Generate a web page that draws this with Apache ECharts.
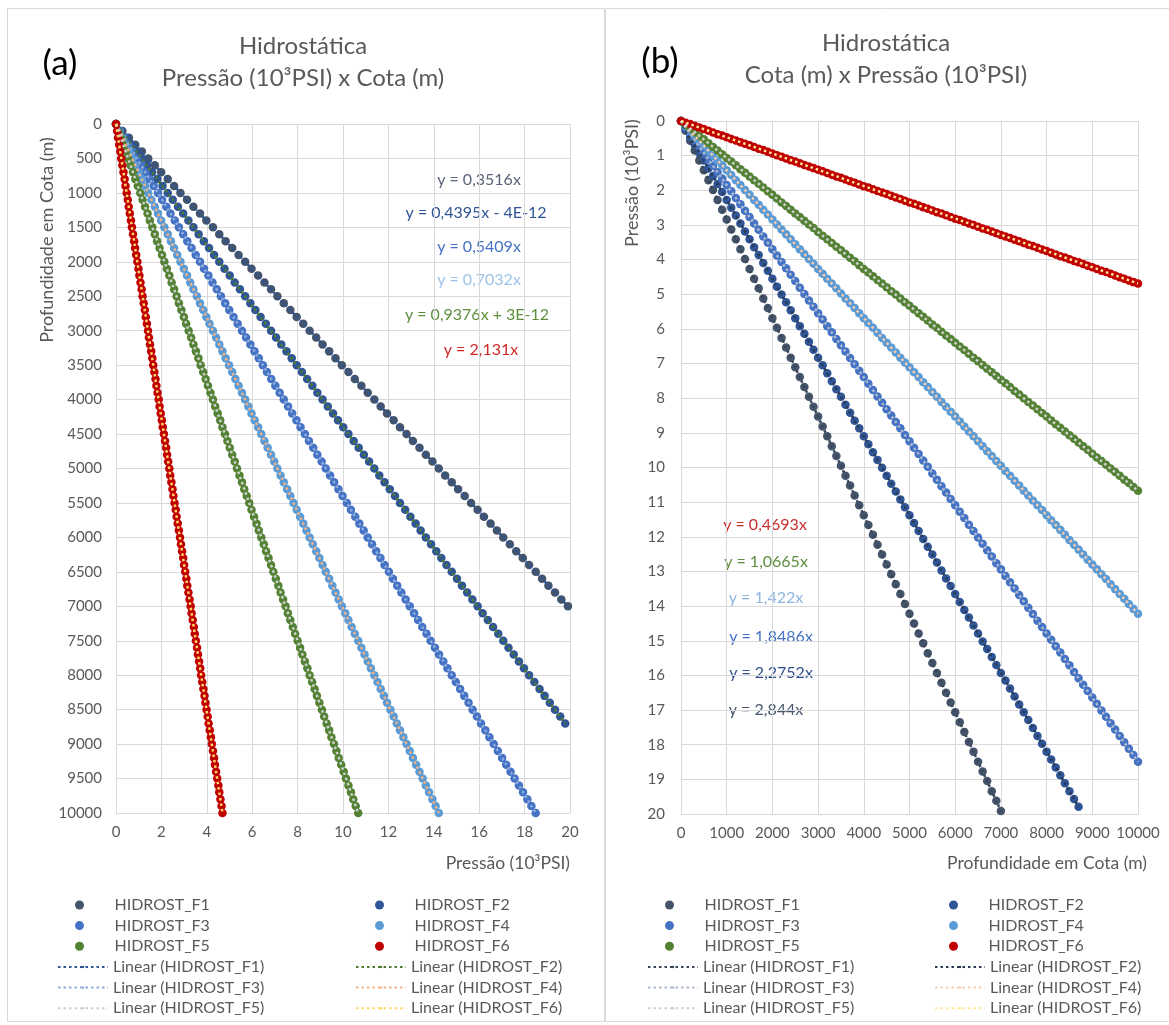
<!DOCTYPE html>
<html><head><meta charset="utf-8">
<script src="https://cdn.jsdelivr.net/npm/echarts@6/dist/echarts.min.js"></script>
<style>html,body{margin:0;padding:0;background:#fff}#c{width:1169px;height:1025px}</style>
</head><body><div id="c"></div>
<script>
// ---- DATA ----
const depthM = [0,100,200,300,400,500,600,700,800,900,1000,1100,1200,1300,1400,1500,1600,1700,1800,1900,2000,2100,2200,2300,2400,2500,2600,2700,2800,2900,3000,3100,3200,3300,3400,3500,3600,3700,3800,3900,4000,4100,4200,4300,4400,4500,4600,4700,4800,4900,5000,5100,5200,5300,5400,5500,5600,5700,5800,5900,6000,6100,6200,6300,6400,6500,6600,6700,6800,6900,7000,7100,7200,7300,7400,7500,7600,7700,7800,7900,8000,8100,8200,8300,8400,8500,8600,8700,8800,8900,9000,9100,9200,9300,9400,9500,9600,9700,9800,9900,10000];
const pressF1 = [0,0.28,0.57,0.85,1.14,1.42,1.71,1.99,2.28,2.56,2.84,3.13,3.41,3.70,3.98,4.27,4.55,4.83,5.12,5.40,5.69,5.97,6.26,6.54,6.83,7.11,7.39,7.68,7.96,8.25,8.53,8.82,9.10,9.39,9.67,9.95,10.24,10.52,10.81,11.09,11.38,11.66,11.94,12.23,12.51,12.80,13.08,13.37,13.65,13.94,14.22,14.50,14.79,15.07,15.36,15.64,15.93,16.21,16.50,16.78,17.06,17.35,17.63,17.92,18.20,18.49,18.77,19.05,19.34,19.62,19.91];
const pressF2 = [0,0.23,0.46,0.68,0.91,1.14,1.37,1.59,1.82,2.05,2.28,2.50,2.73,2.96,3.19,3.41,3.64,3.87,4.10,4.32,4.55,4.78,5.01,5.23,5.46,5.69,5.92,6.14,6.37,6.60,6.83,7.05,7.28,7.51,7.74,7.96,8.19,8.42,8.65,8.87,9.10,9.33,9.56,9.78,10.01,10.24,10.47,10.69,10.92,11.15,11.38,11.60,11.83,12.06,12.29,12.51,12.74,12.97,13.20,13.42,13.65,13.88,14.11,14.33,14.56,14.79,15.02,15.24,15.47,15.70,15.93,16.15,16.38,16.61,16.84,17.06,17.29,17.52,17.75,17.97,18.20,18.43,18.66,18.88,19.11,19.34,19.57,19.79];
const pressF3 = [0,0.18,0.37,0.55,0.74,0.92,1.11,1.29,1.48,1.66,1.85,2.03,2.22,2.40,2.59,2.77,2.96,3.14,3.33,3.51,3.70,3.88,4.07,4.25,4.44,4.62,4.81,4.99,5.18,5.36,5.55,5.73,5.92,6.10,6.29,6.47,6.65,6.84,7.02,7.21,7.39,7.58,7.76,7.95,8.13,8.32,8.50,8.69,8.87,9.06,9.24,9.43,9.61,9.80,9.98,10.17,10.35,10.54,10.72,10.91,11.09,11.28,11.46,11.65,11.83,12.02,12.20,12.39,12.57,12.76,12.94,13.13,13.31,13.49,13.68,13.86,14.05,14.23,14.42,14.60,14.79,14.97,15.16,15.34,15.53,15.71,15.90,16.08,16.27,16.45,16.64,16.82,17.01,17.19,17.38,17.56,17.75,17.93,18.12,18.30,18.49];
const pressF4 = [0,0.14,0.28,0.43,0.57,0.71,0.85,1.00,1.14,1.28,1.42,1.56,1.71,1.85,1.99,2.13,2.28,2.42,2.56,2.70,2.84,2.99,3.13,3.27,3.41,3.56,3.70,3.84,3.98,4.12,4.27,4.41,4.55,4.69,4.83,4.98,5.12,5.26,5.40,5.55,5.69,5.83,5.97,6.11,6.26,6.40,6.54,6.68,6.83,6.97,7.11,7.25,7.39,7.54,7.68,7.82,7.96,8.11,8.25,8.39,8.53,8.67,8.82,8.96,9.10,9.24,9.39,9.53,9.67,9.81,9.95,10.10,10.24,10.38,10.52,10.67,10.81,10.95,11.09,11.23,11.38,11.52,11.66,11.80,11.94,12.09,12.23,12.37,12.51,12.66,12.80,12.94,13.08,13.22,13.37,13.51,13.65,13.79,13.94,14.08,14.22];
const pressF5 = [0,0.11,0.21,0.32,0.43,0.53,0.64,0.75,0.85,0.96,1.07,1.17,1.28,1.39,1.49,1.60,1.71,1.81,1.92,2.03,2.13,2.24,2.35,2.45,2.56,2.67,2.77,2.88,2.99,3.09,3.20,3.31,3.41,3.52,3.63,3.73,3.84,3.95,4.05,4.16,4.27,4.37,4.48,4.59,4.69,4.80,4.91,5.01,5.12,5.23,5.33,5.44,5.55,5.65,5.76,5.87,5.97,6.08,6.19,6.29,6.40,6.51,6.61,6.72,6.83,6.93,7.04,7.15,7.25,7.36,7.47,7.57,7.68,7.79,7.89,8.00,8.11,8.21,8.32,8.43,8.53,8.64,8.75,8.85,8.96,9.07,9.17,9.28,9.39,9.49,9.60,9.71,9.81,9.92,10.03,10.13,10.24,10.35,10.45,10.56,10.67];
const pressF6 = [0,0.05,0.09,0.14,0.19,0.23,0.28,0.33,0.38,0.42,0.47,0.52,0.56,0.61,0.66,0.70,0.75,0.80,0.84,0.89,0.94,0.99,1.03,1.08,1.13,1.17,1.22,1.27,1.31,1.36,1.41,1.45,1.50,1.55,1.60,1.64,1.69,1.74,1.78,1.83,1.88,1.92,1.97,2.02,2.06,2.11,2.16,2.21,2.25,2.30,2.35,2.39,2.44,2.49,2.53,2.58,2.63,2.67,2.72,2.77,2.82,2.86,2.91,2.96,3.00,3.05,3.10,3.14,3.19,3.24,3.29,3.33,3.38,3.43,3.47,3.52,3.57,3.61,3.66,3.71,3.75,3.80,3.85,3.90,3.94,3.99,4.04,4.08,4.13,4.18,4.22,4.27,4.32,4.36,4.41,4.46,4.51,4.55,4.60,4.65,4.69];
const seriesNames = ['HIDROST_F1','HIDROST_F2','HIDROST_F3','HIDROST_F4','HIDROST_F5','HIDROST_F6'];
const equationsA = ['y = 0,3516x','y = 0,4395x - 4E-12','y = 0,5409x','y = 0,7032x','y = 0,9376x + 3E-12','y = 2,131x'];
const equationsB = ['y = 2,844x','y = 2,2752x','y = 1,8486x','y = 1,422x','y = 1,0665x','y = 0,4693x'];
const titleA = ['Hidrostática','Pressão (10³PSI) x Cota (m)'];
const titleB = ['Hidrostática','Cota (m) x Pressão (10³PSI)'];
const axisNamesA = {x:'Pressão (10³PSI)', y:'Profundidade em Cota (m)'};
const axisNamesB = {x:'Profundidade em Cota (m)', y:'Pressão (10³PSI)'};

// ---- STYLE ----
const FONT = 'Lato';
const TXT = '#595959';
const GRIDC = '#D9D9D9';
const pressures = [pressF1,pressF2,pressF3,pressF4,pressF5,pressF6];
const markerColors = ['#44546A','#2F5597','#4472C4','#5B9BD5','#548235','#C00000'];
const trendColorsA = ['#2F5597','#4E7A2E','#8FAADC','#F4B183','#CFCFCF','#FFD966'];
const trendColorsB = ['#3A4658','#2A3A55','#ADB9CA','#F8CBAD','#D0CECE','#FFE699'];
const eqColorsA = ['#5A6478','#2F5597','#4472C4','#9DC3E6','#5E8E3E','#D02828'];
const eqColorsB = ['#44546A','#2F4F8F','#4472C4','#8FB4E0','#5E8E3E','#C83030'];

const chart = echarts.init(document.getElementById('c'), null, {renderer:'canvas'});

function axisBase(extra, margin){
  return Object.assign({
    type:'value',
    axisLine:{show:true,onZero:false,lineStyle:{color:GRIDC,width:1}},
    axisTick:{show:false},
    splitLine:{show:true,lineStyle:{color:GRIDC,width:1}},
    axisLabel:{color:TXT,fontSize:15,fontFamily:FONT,margin:margin,formatter:v=>String(v)}
  }, extra);
}

const series = [];
const dash = [2.5,3];
seriesNames.forEach((n,i)=>{
  series.push({type:'scatter', name:'a:'+n, xAxisIndex:0, yAxisIndex:0,
    data: pressures[i].map((p,j)=>[p, depthM[j]]),
    symbol:'circle', symbolSize:8.5, itemStyle:{color:markerColors[i], opacity:1}, z:2, silent:true});
});
seriesNames.forEach((n,i)=>{
  const pr = pressures[i], L = pr.length-1;
  series.push({type:'line', name:'a:Linear ('+n+')', xAxisIndex:0, yAxisIndex:0,
    data:[[pr[0],depthM[0]],[pr[L],depthM[L]]], symbol:'none',
    lineStyle:{color:trendColorsA[i], width:2.5, type:dash}, itemStyle:{color:trendColorsA[i]}, z:3, silent:true});
});
seriesNames.forEach((n,i)=>{
  series.push({type:'scatter', name:'b:'+n, xAxisIndex:1, yAxisIndex:1,
    data: pressures[i].map((p,j)=>[depthM[j], p]),
    symbol:'circle', symbolSize:8.5, itemStyle:{color:markerColors[i], opacity:1}, z:2, silent:true});
});
seriesNames.forEach((n,i)=>{
  const pr = pressures[i], L = pr.length-1;
  series.push({type:'line', name:'b:Linear ('+n+')', xAxisIndex:1, yAxisIndex:1,
    data:[[depthM[0],pr[0]],[depthM[L],pr[L]]], symbol:'none',
    lineStyle:{color:trendColorsB[i], width:2.5, type:dash}, itemStyle:{color:trendColorsB[i]}, z:3, silent:true});
});

function legend(prefix, names, left, top, isLine){
  return {
    orient:'vertical', left:left, top:top, padding:0,
    itemWidth:50, itemHeight: isLine?3:9, itemGap:0.6,
    selectedMode:false,
    data: names.map(n=>prefix+n),
    formatter: nm => nm.slice(2),
    textStyle:{color:TXT, fontSize:16, fontFamily:FONT, lineHeight:20, padding: isLine?[0,0,0,0]:[0,0,0,5]}
  };
}
const odd = [0,2,4].map(i=>seriesNames[i]);
const even = [1,3,5].map(i=>seriesNames[i]);
const legends = [
  legend('a:', odd, 75, 895, false),
  legend('a:', even, 375, 895, false),
  legend('a:', odd.map(n=>'Linear ('+n+')'), 57, 957, true),
  legend('a:', even.map(n=>'Linear ('+n+')'), 355, 957, true),
  legend('b:', odd, 665, 895, false),
  legend('b:', even, 949, 895, false),
  legend('b:', odd.map(n=>'Linear ('+n+')'), 647, 957, true),
  legend('b:', even.map(n=>'Linear ('+n+')'), 934, 957, true)
];

const g = [];
function txt(x,y,text,opts){
  g.push({type:'text', x:x, y:y, silent:true,
    style:Object.assign({text:text, fill:TXT, font:'16px '+FONT, textAlign:'center', textVerticalAlign:'middle'}, opts||{})});
}
g.push({type:'rect', silent:true, shape:{x:7.5,y:8.5,width:597,height:1013}, style:{fill:'none',stroke:GRIDC,lineWidth:1}});
g.push({type:'rect', silent:true, shape:{x:605.5,y:8.5,width:580,height:1013}, style:{fill:'none',stroke:GRIDC,lineWidth:1}});
txt(303,46,titleA[0],{font:'24px '+FONT});
txt(303,78,titleA[1],{font:'24px '+FONT});
txt(886,43,titleB[0],{font:'24px '+FONT});
txt(886,75,titleB[1],{font:'24px '+FONT});
txt(60,64,'(a)',{font:'35px '+FONT, fill:'#000'});
txt(660,62,'(b)',{font:'35px '+FONT, fill:'#000'});
txt(570,863,axisNamesA.x,{font:'17.5px '+FONT, textAlign:'right'});
txt(1147,863,axisNamesB.x,{font:'17.5px '+FONT, textAlign:'right'});
g.push({type:'text', x:47, y:240, rotation:Math.PI/2, silent:true, style:{text:axisNamesA.y, fill:TXT, font:'18px '+FONT, textAlign:'center', textVerticalAlign:'middle'}});
g.push({type:'text', x:632, y:183, rotation:Math.PI/2, silent:true, style:{text:axisNamesB.y, fill:TXT, font:'18px '+FONT, textAlign:'center', textVerticalAlign:'middle'}});
const eqYA = [180,213,247,280,315,350];
const eqXA = [479,476,479,479,477,481];
equationsA.forEach((e,i)=>txt(eqXA[i],eqYA[i],e,{fill:eqColorsA[i]}));
const eqYB = [710,673,637,598,562,525];
const eqXB = [766,771,771,766,766,765];
equationsB.forEach((e,i)=>txt(eqXB[i],eqYB[i],e,{fill:eqColorsB[i]}));

chart.setOption({
  animation:false,
  backgroundColor:'#fff',
  grid:[
    {left:116, top:124, width:454, height:689},
    {left:681, top:121, width:457, height:693}
  ],
  xAxis:[
    axisBase({gridIndex:0, min:0, max:20, interval:2, position:'bottom'}, 12),
    axisBase({gridIndex:1, min:0, max:10000, interval:1000, position:'bottom'}, 12)
  ],
  yAxis:[
    axisBase({gridIndex:0, min:0, max:10000, interval:500, inverse:true}, 14),
    axisBase({gridIndex:1, min:0, max:20, interval:1, inverse:true}, 16)
  ],
  legend: legends,
  series: series,
  graphic: g
});
</script></body></html>
